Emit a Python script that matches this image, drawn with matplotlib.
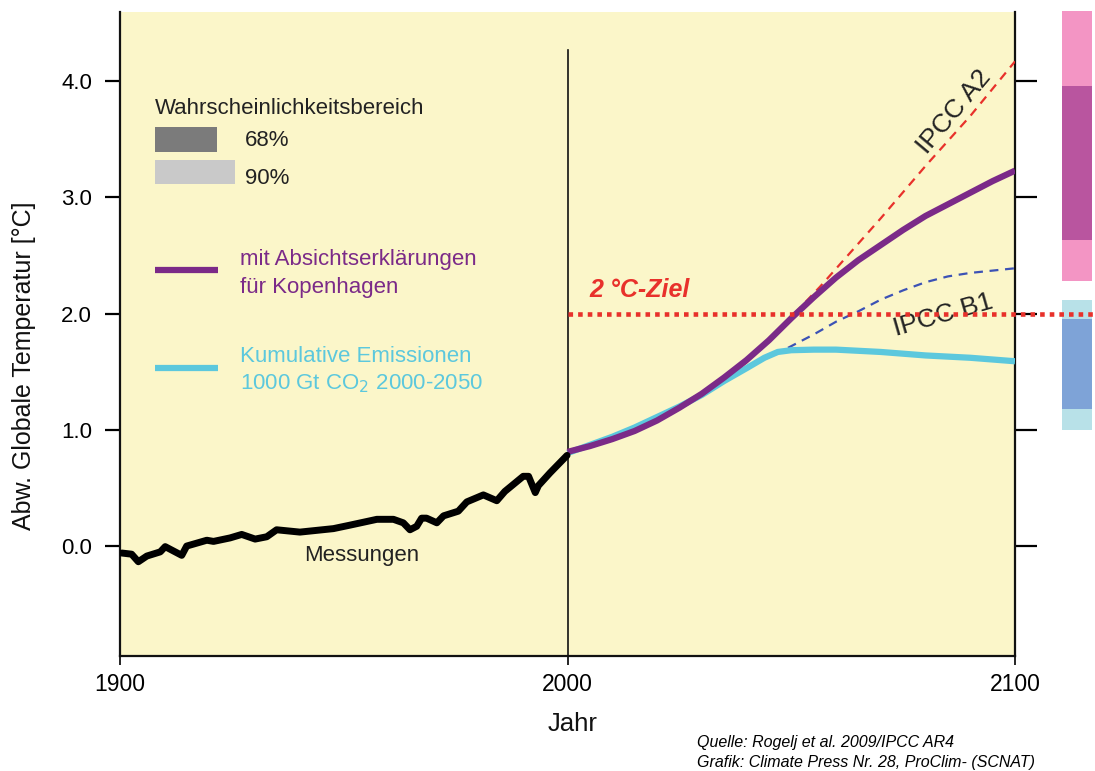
import matplotlib
matplotlib.use("Agg")
import matplotlib.pyplot as plt
from matplotlib.patches import Rectangle

plt.rcParams['font.family'] = ['Liberation Sans', 'DejaVu Sans']

# --- data ---
meas_years = [1900.4, 1902.6, 1904.1, 1906, 1909, 1910.1, 1913.8, 1914.9, 1919.4, 1920.9,
              1924.6, 1927.2, 1930.2, 1932.8, 1935, 1940.2, 1947.7, 1951.4, 1957.4, 1961.1,
              1963.3, 1964.8, 1966.3, 1967.4, 1968.5, 1970.8, 1972.3, 1975.6, 1977.5, 1981.2,
              1984.2, 1986, 1990.1, 1991.3, 1992.8, 1993.5, 1996.1, 1999.9]
meas_temp = [-0.06, -0.07, -0.135, -0.086, -0.05, -0.005, -0.08, 0.0, 0.05, 0.04,
             0.07, 0.10, 0.06, 0.08, 0.14, 0.12, 0.15, 0.18, 0.23, 0.23,
             0.20, 0.14, 0.17, 0.24, 0.24, 0.20, 0.26, 0.30, 0.38, 0.44,
             0.39, 0.47, 0.60, 0.60, 0.46, 0.52, 0.63, 0.78]

kop_years = [2000, 2005, 2010, 2015, 2020, 2025, 2030, 2035, 2040, 2045, 2050,
             2055, 2060, 2065, 2070, 2075, 2080, 2085, 2090, 2095, 2100]
kop_temp = [0.81, 0.86, 0.92, 0.99, 1.08, 1.19, 1.31, 1.45, 1.60, 1.77, 1.96,
            2.14, 2.31, 2.46, 2.59, 2.72, 2.84, 2.94, 3.04, 3.14, 3.23]

cum_years = [2000, 2005, 2010, 2015, 2020, 2025, 2030, 2035, 2040, 2044, 2047,
             2050, 2055, 2060, 2070, 2080, 2090, 2100]
cum_temp = [0.80, 0.87, 0.94, 1.02, 1.11, 1.20, 1.30, 1.42, 1.53, 1.62, 1.67,
            1.685, 1.69, 1.69, 1.67, 1.64, 1.62, 1.59]

a2_years = [2030, 2040, 2050, 2056.4, 2070, 2080, 2090, 2100]
a2_temp = [1.30, 1.58, 1.97, 2.23, 2.82, 3.27, 3.70, 4.17]

b1_years = [2043, 2047, 2050, 2055, 2060, 2065, 2070, 2075, 2080, 2085, 2090, 2095, 2100]
b1_temp = [1.59, 1.66, 1.72, 1.82, 1.93, 2.02, 2.12, 2.20, 2.27, 2.32, 2.35, 2.37, 2.39]

target_temp = 2.0

# right-hand likelihood bars: (low90, low68, high68, high90)
a2_range = [2.28, 2.63, 3.96, 4.6]
b1_range = [1.0, 1.18, 1.95, 2.12]

xticks = [1900, 2000, 2100]
yticks = [0.0, 1.0, 2.0, 3.0, 4.0]
ytick_labels = ["0.0", "1.0", "2.0", "3.0", "4.0"]

# --- colours ---
bg = "#FBF6C9"
purple = "#7B2A88"
cyan = "#5CC8DD"
red = "#E8312B"
blue = "#3C52B5"

fig = plt.figure(figsize=(10.95, 7.71), dpi=100)
ax = fig.add_axes([120/1095, 1-656/771, (1015-120)/1095, (656-12)/771])
ax.set_facecolor(bg)
ax.set_xlim(1900, 2100)
ax.set_ylim(-0.946, 4.595)

ax.spines['top'].set_visible(False)
for s in ['left', 'right', 'bottom']:
    ax.spines[s].set_linewidth(1.6)
    ax.spines[s].set_color('#111111')

ax.set_xticks(xticks)
ax.set_xticklabels([str(x) for x in xticks], fontsize=16.5)
ax.set_yticks(yticks)
ax.set_yticklabels(ytick_labels, fontsize=16)
ax.tick_params(axis='y', which='both', direction='out', length=11, width=1.6,
               left=True, right=True, labelleft=True, labelright=False, pad=9)
ax.tick_params(axis='x', direction='out', length=6.5, width=1.2, pad=6)
for t in ax.yaxis.get_major_ticks():
    t.tick2line.set_markersize(16)

def px(x, y):
    return (x/1095, 1-y/771)

fig.text(*px(573, 724), "Jahr", fontsize=18.5, ha='center', va='center', color='#111111')
fig.text(*px(24, 366), "Abw. Globale Temperatur [°C]", fontsize=18, rotation=90,
         ha='center', va='center', color='#111111')

# vertical line at 2000
ax.plot([2000, 2000], [-0.946, 4.27], color='#111111', lw=1.2, zorder=2)

# scenarios
ax.plot(a2_years, a2_temp, color=red, lw=1.6, ls=(0, (4, 3)), zorder=3)
ax.plot(b1_years, b1_temp, color=blue, lw=1.6, ls=(0, (4, 3)), zorder=3)
ax.plot(cum_years, cum_temp, color=cyan, lw=4.5, solid_capstyle='butt',
        solid_joinstyle='round', zorder=4)
ax.plot(kop_years, kop_temp, color=purple, lw=4.5, solid_capstyle='butt',
        solid_joinstyle='round', zorder=5)
ax.plot(meas_years, meas_temp, color='black', lw=5, solid_joinstyle='round',
        solid_capstyle='round', zorder=5)

# 2 degree target
ax.plot([2000, 2118], [target_temp, target_temp], color=red, lw=3.3,
        ls=(0, (1, 1.1)), clip_on=False, zorder=6)
ax.text(2005, 2.1, "2 °C-Ziel", color=red, fontsize=18, fontweight='bold',
        style='italic', ha='left', va='bottom')

# right bars
def bars(rng, light, dark):
    x0, w = 2110.5, 6.7
    ax.add_patch(Rectangle((x0, rng[0]), w, rng[3]-rng[0], facecolor=light,
                           edgecolor='none', clip_on=False, zorder=1))
    ax.add_patch(Rectangle((x0, rng[1]), w, rng[2]-rng[1], facecolor=dark,
                           edgecolor='none', clip_on=False, zorder=2))
bars(a2_range, "#F395C4", "#B9559F")
bars(b1_range, "#B8E1E8", "#7EA3D7")

# labels on curves
ax.text(2086.5, 3.74, "IPCC A2", rotation=50, fontsize=19, ha='center', va='center',
        color='#222222')
ax.text(2084, 1.99, "IPCC B1", rotation=16, fontsize=19, ha='center', va='center',
        color='#222222')
ax.text(1954.1, -0.085, "Messungen", fontsize=16, ha='center', va='center', color='#222222')

# legend (manual)
fs = 16
fig.text(*px(155, 108), "Wahrscheinlichkeitsbereich", fontsize=fs, ha='left', va='center', color='#222222')
fig.patches.append(Rectangle(px(155, 152), 62/1095, 25/771, transform=fig.transFigure,
                             facecolor='#7b7b7b', edgecolor='none'))
fig.patches.append(Rectangle(px(155, 184), 80/1095, 24/771, transform=fig.transFigure,
                             facecolor='#c9c9c9', edgecolor='none'))
fig.text(*px(245, 141), "68%", fontsize=fs, ha='left', va='center', color='#222222')
fig.text(*px(245, 178), "90%", fontsize=fs, ha='left', va='center', color='#222222')

fig.add_artist(plt.Line2D([155/1095, 218/1095], [1-270/771]*2, color=purple, lw=4.5,
                          solid_capstyle='butt', transform=fig.transFigure))
fig.text(*px(240, 260), "mit Absichtserklärungen", fontsize=fs, ha='left', va='center', color=purple)
fig.text(*px(240, 288), "für Kopenhagen", fontsize=fs, ha='left', va='center', color=purple)

fig.add_artist(plt.Line2D([155/1095, 218/1095], [1-368/771]*2, color=cyan, lw=4.5,
                          solid_capstyle='butt', transform=fig.transFigure))
fig.text(*px(240, 356), "Kumulative Emissionen", fontsize=fs, ha='left', va='center', color=cyan)
fig.text(*px(240, 384), "1000 Gt CO$_2$ 2000-2050", fontsize=fs, ha='left', va='center', color=cyan)

# source
fig.text(*px(697, 742), "Quelle: Rogelj et al. 2009/IPCC AR4", fontsize=11.5, style='italic', ha='left', va='center')
fig.text(*px(697, 762), "Grafik: Climate Press Nr. 28, ProClim- (SCNAT)", fontsize=11.5, style='italic', ha='left', va='center')

fig.savefig("out.png", dpi=100)
